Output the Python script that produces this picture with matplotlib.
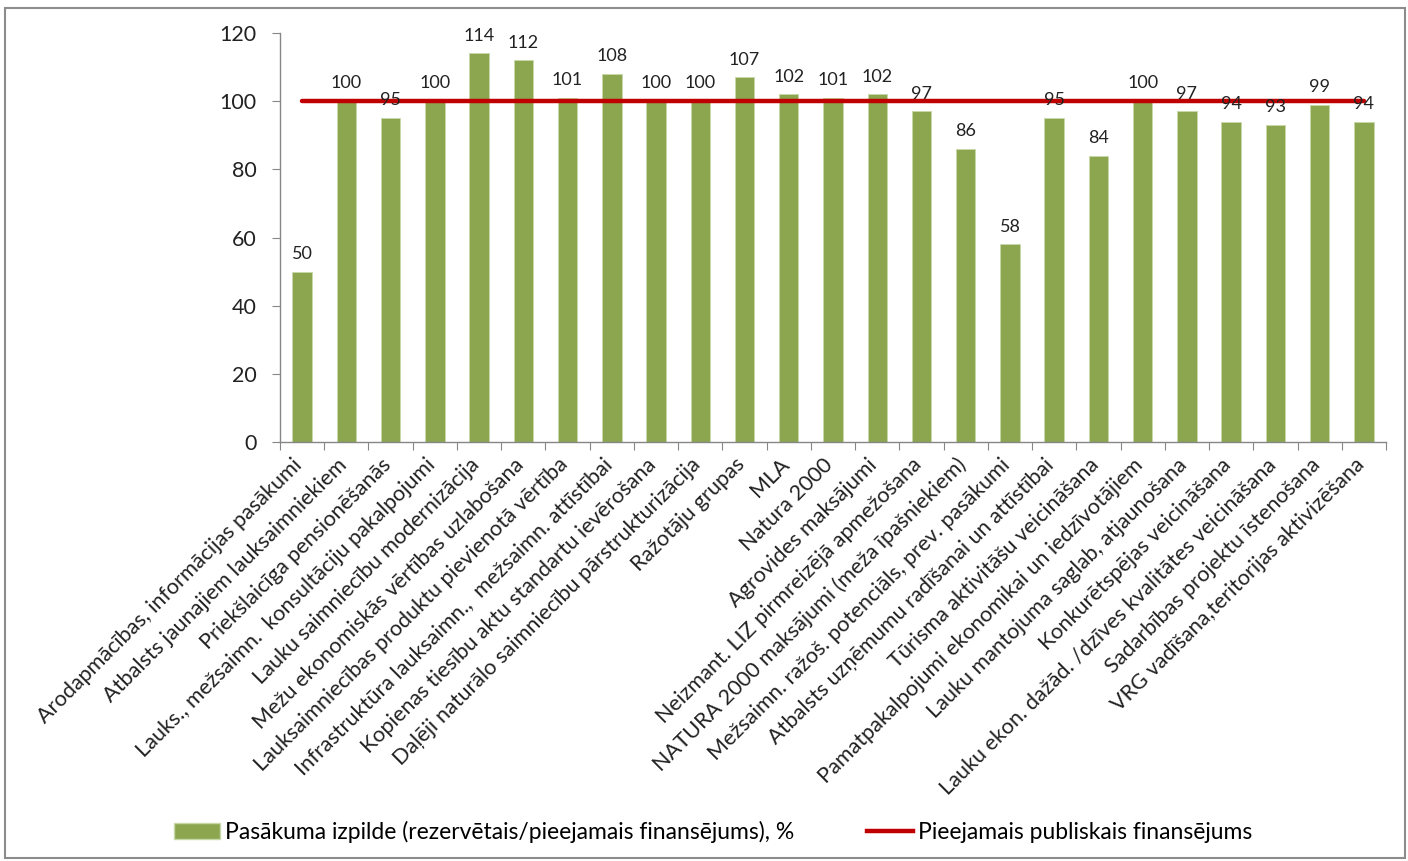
import matplotlib
matplotlib.use("Agg")
import matplotlib.pyplot as plt
import matplotlib.transforms as mtransforms
from matplotlib.patches import Patch, Rectangle
from matplotlib.lines import Line2D

categories = [
    "Arodapmācības, informācijas pasākumi",
    "Atbalsts jaunajiem lauksaimniekiem",
    "Priekšlaicīga pensionēšanās",
    "Lauks., mežsaimn.  konsultāciju pakalpojumi",
    "Lauku saimniecību modernizācija",
    "Mežu ekonomiskās vērtības uzlabošana",
    "Lauksaimniecības produktu pievienotā vērtība",
    "Infrastruktūra lauksaimn.,  mežsaimn. attīstībai",
    "Kopienas tiesību aktu standartu ievērošana",
    "Daļēji naturālo saimniecību pārstrukturizācija",
    "Ražotāju grupas",
    "MLA",
    "Natura 2000",
    "Agrovides maksājumi",
    "Neizmant. LIZ pirmreizējā apmežošana",
    "NATURA 2000 maksājumi (meža īpašniekiem)",
    "Mežsaimn. ražoš. potenciāls, prev. pasākumi",
    "Atbalsts uzņēmumu radīšanai un attīstībai",
    "Tūrisma aktivitāšu veicināšana",
    "Pamatpakalpojumi ekonomikai un iedzīvotājiem",
    "Lauku mantojuma saglab, atjaunošana",
    "Konkurētspējas veicināšana",
    "Lauku ekon. dažād. /dzīves kvalitātes veicināšana",
    "Sadarbības projektu īstenošana",
    "VRG vadīšana,teritorijas aktivizēšana",
]
execution = [50, 100, 95, 100, 114, 112, 101, 108, 100, 100, 107, 102, 101,
             102, 97, 86, 58, 95, 84, 100, 97, 94, 93, 99, 94]
available = [100] * len(categories)
yticks = [0, 20, 40, 60, 80, 100, 120]

series_bar = "Pasākuma izpilde (rezervētais/pieejamais finansējums), %"
series_line = "Pieejamais publiskais finansējums"

FONT = ["Lato", "DejaVu Sans"]
plt.rcParams["font.family"] = FONT

fig = plt.figure(figsize=(14.08, 8.61), dpi=100)
W, H = 1408, 861
ax = fig.add_axes([280 / W, 1 - 442 / H, (1386 - 280) / W, (442 - 33) / H])

x = list(range(len(categories)))
bar_color = "#8ba64f"
ax.bar(x, execution, width=0.44, color=bar_color, edgecolor="#c9d8a8",
       linewidth=0.6, zorder=2)
ax.plot(x, available, color="#c00000", linewidth=3.2, solid_capstyle="round",
        zorder=3)

for xi, v in zip(x, execution):
    ax.annotate(f"{v}", (xi, v), xytext=(0, 7), textcoords="offset points",
                ha="center", va="bottom", fontsize=13, color="#222222",
                zorder=4)

ax.set_xlim(-0.5, len(categories) - 0.5)
ax.set_ylim(0, 120)
ax.set_yticks(yticks)
ax.set_yticklabels([str(t) for t in yticks], fontsize=15.5)
ax.tick_params(axis="y", direction="out", length=6, color="#868686",
               pad=11, labelcolor="#222222")

ax.set_xticks([i - 0.5 for i in range(len(categories) + 1)])
ax.set_xticklabels([])
ax.tick_params(axis="x", direction="out", length=6, color="#868686")
ax.set_xticks(x, minor=True)
ax.set_xticklabels(categories, minor=True, rotation=45, ha="right",
                   rotation_mode="anchor", fontsize=15.6, color="#222222")
ax.tick_params(axis="x", which="minor", length=0, pad=9)
shift = mtransforms.ScaledTranslation(-10 / 100, 0, fig.dpi_scale_trans)
for lbl in ax.get_xticklabels(minor=True):
    lbl.set_transform(lbl.get_transform() + shift)

for s in ["top", "right"]:
    ax.spines[s].set_visible(False)
for s in ["left", "bottom"]:
    ax.spines[s].set_color("#868686")
    ax.spines[s].set_linewidth(1.0)

# chart area border
fig.patches.append(Rectangle((5 / W, 3 / H), (W - 8) / W, (H - 11) / H,
                             transform=fig.transFigure, fill=False,
                             edgecolor="#8c8c8c", linewidth=1.5))

handles = [Patch(facecolor=bar_color, edgecolor="#c9d8a8", label=series_bar),
           Line2D([0], [0], color="#c00000", linewidth=3.2, label=series_line)]
fig.legend(handles=handles, loc="center",
           bbox_to_anchor=(0.5 + 9 / W, 1 - 832 / H),
           ncol=2, frameon=False, handlelength=2.0, handleheight=0.75,
           handletextpad=0.2, columnspacing=3.2,
           prop={"size": 16.5})

fig.savefig("out.png", dpi=100, facecolor="white")
